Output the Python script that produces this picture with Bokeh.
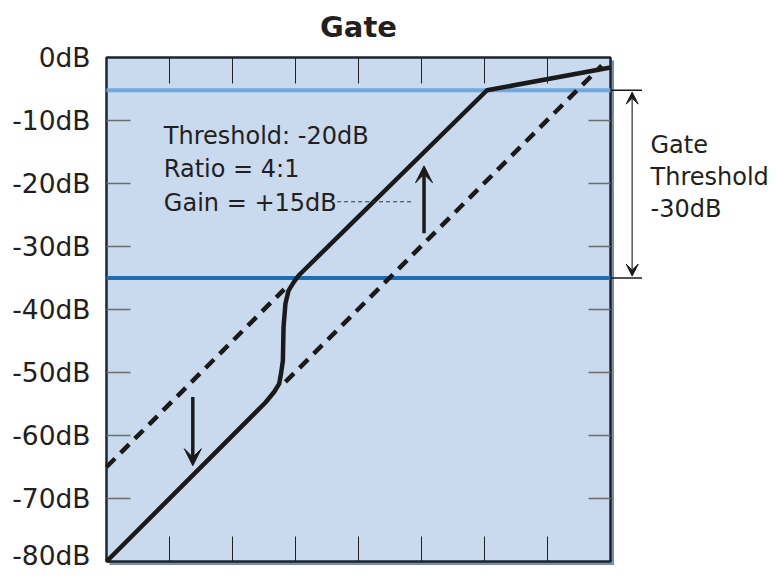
from bokeh.plotting import figure
from bokeh.models import LinearAxis, FixedTicker, Range1d, Arrow, VeeHead, Label, Grid
from bokeh.embed import file_html
from bokeh.resources import INLINE

# ---------------- data ----------------
axis_ticks = [0, -10, -20, -30, -40, -50, -60, -70, -80]
axis_tick_labels = ["0dB", "-10dB", "-20dB", "-30dB", "-40dB", "-50dB", "-60dB", "-70dB", "-80dB"]
inner_ticks = [-70, -60, -50, -40, -30, -20, -10]
db_min, db_max = -80, 0

# gate transfer curve (input dB -> output dB)
gate_in = [-80, -54.8, -53.4, -52.6, -52.3, -52.0, -51.9, -51.6, -51.1, -50.3, -49.5, -19.6, 0]
gate_out = [-80, -54.8, -53.1, -51.8, -50.2, -48.1, -42.8, -39.1, -37.0, -35.7, -34.6, -5.2, -1.6]

# dashed reference lines
gain_line_in = [-80, -51.8]
gain_line_out = [-65, -36.8]
unity_in = [-51.6, -1.4]
unity_out = [-51.5, -1.3]

upper_threshold = -5.2
lower_threshold = -35.0

text_lines = ["Threshold: -20dB", "Ratio = 4:1", "Gain = +15dB"]
side_lines = ["Gate", "Threshold", "-30dB"]
title_text = "Gate"

# ---------------- layout (pixels) ----------------
W, H = 776, 570
BOX_L, BOX_T = 106, 57          # pixel position of the plot box
PX = 6.3                        # pixels per dB
LEFT = 103                      # width reserved for the tick labels
LBL_SHIFT = 8 / PX              # label baseline correction
FONT = "DejaVu Sans"
TXT = "#231f20"
DARK = "#1a1a1a"

x0 = db_min - (BOX_L - LEFT) / PX
x1 = db_min + (W - BOX_L) / PX
y1 = db_max + BOX_T / PX
y0 = db_max - (H - BOX_T) / PX

p = figure(width=W, height=H, x_range=Range1d(x0, x1), y_range=Range1d(y0, y1),
           output_backend="svg", toolbar_location=None,
           x_axis_location=None, y_axis_location=None,
           min_border_left=LEFT, min_border_right=0, min_border_top=0, min_border_bottom=0)
p.grid.visible = False
p.background_fill_color = "white"
p.border_fill_color = "white"
p.outline_line_color = None

left = LinearAxis(ticker=FixedTicker(ticks=axis_ticks))
left.major_tick_in = 0
left.major_tick_out = 0
left.minor_tick_in = 0
left.minor_tick_out = 0
left.axis_line_color = None
left.major_label_overrides = {t: l for t, l in zip(axis_ticks, axis_tick_labels)}
left.major_label_text_font = FONT
left.major_label_text_font_size = "26.5px"
left.major_label_text_color = TXT
left.major_label_standoff = 13
p.add_layout(left, "left")

# plot box: shadow + panel
p.quad(left=[db_min + 3 / PX], right=[db_max + 3.5 / PX], bottom=[db_min - 3.5 / PX], top=[db_max - 3 / PX],
       fill_color="#7b8fa2", line_color=None)
p.quad(left=[db_min], right=[db_max], bottom=[db_min], top=[db_max],
       fill_color="#c9daee", line_color="#1b2530", line_width=2.5)

# threshold lines
p.segment(x0=[db_min], y0=[upper_threshold], x1=[db_max], y1=[upper_threshold], line_color="#6ea8dc", line_width=4)
p.segment(x0=[db_min], y0=[lower_threshold], x1=[db_max], y1=[lower_threshold], line_color="#1f6db4", line_width=4)

# tick marks inside the box (grid lines with limited extent)
def ticks(dim, lo, hi, color, width):
    g = Grid(dimension=dim, ticker=FixedTicker(ticks=inner_ticks), cross_bounds=(lo, hi),
             grid_line_color=color, grid_line_width=width, level="overlay")
    p.add_layout(g)

ticks(1, db_min, db_min + 24 / PX, "#6b6b6b", 1.5)
ticks(1, db_max - 22 / PX, db_max, "#6b6b6b", 1.5)
ticks(0, db_max - 26 / PX, db_max, "#222222", 1)
ticks(0, db_min, db_min + 25 / PX, "#222222", 1)

# dashed lines
p.line(gain_line_in, gain_line_out, line_color=DARK, line_width=4.5, line_dash="12 8")
p.line(unity_in, unity_out, line_color=DARK, line_width=4.5, line_dash="12 8")

# gate curve
p.line(gate_in, gate_out, line_color=DARK, line_width=4.5, line_join="round")

# gain arrows
p.add_layout(Arrow(end=VeeHead(size=17, fill_color=DARK, line_color=DARK),
                   x_start=-66.3, y_start=-53.9, x_end=-66.3, y_end=-64.8,
                   line_color=DARK, line_width=3.5))
p.add_layout(Arrow(end=VeeHead(size=17, fill_color=DARK, line_color=DARK),
                   x_start=-29.6, y_start=-27.9, x_end=-29.6, y_end=-17.2,
                   line_color=DARK, line_width=3.5))

# text block
for i, t in enumerate(text_lines):
    p.add_layout(Label(x=-70.9, y=-13.7 - 5.3 * i + LBL_SHIFT, text=t, text_font=FONT, text_font_size="24px",
                       text_color=TXT, text_baseline="alphabetic"))
p.segment(x0=[-43.4], y0=[-22.9], x1=[-31.2], y1=[-22.9], line_color="#333333", line_width=1, line_dash="4 3")

# side annotation
p.add_layout(Arrow(start=VeeHead(size=12, fill_color=DARK, line_color=DARK),
                   end=VeeHead(size=12, fill_color=DARK, line_color=DARK),
                   x_start=3.44, y_start=upper_threshold - 0.3, x_end=3.44, y_end=lower_threshold + 0.3,
                   line_color="#555555", line_width=1.5))
for yy in (upper_threshold, lower_threshold):
    p.segment(x0=[db_max], y0=[yy], x1=[db_max + 5.0], y1=[yy], line_color=DARK, line_width=1.5)
for i, t in enumerate(side_lines):
    p.add_layout(Label(x=6.35, y=-15.2 - 5.05 * i + LBL_SHIFT, text=t, text_font=FONT, text_font_size="24px",
                       text_color=TXT, text_baseline="alphabetic"))

# title
p.add_layout(Label(x=(db_min + db_max) / 2, y=3.3 + 10 / PX, text=title_text, text_font=FONT,
                   text_font_size="29px", text_font_style="bold", text_color=TXT, text_align="center",
                   text_baseline="alphabetic"))

open("out.html", "w").write(file_html(p, INLINE))
